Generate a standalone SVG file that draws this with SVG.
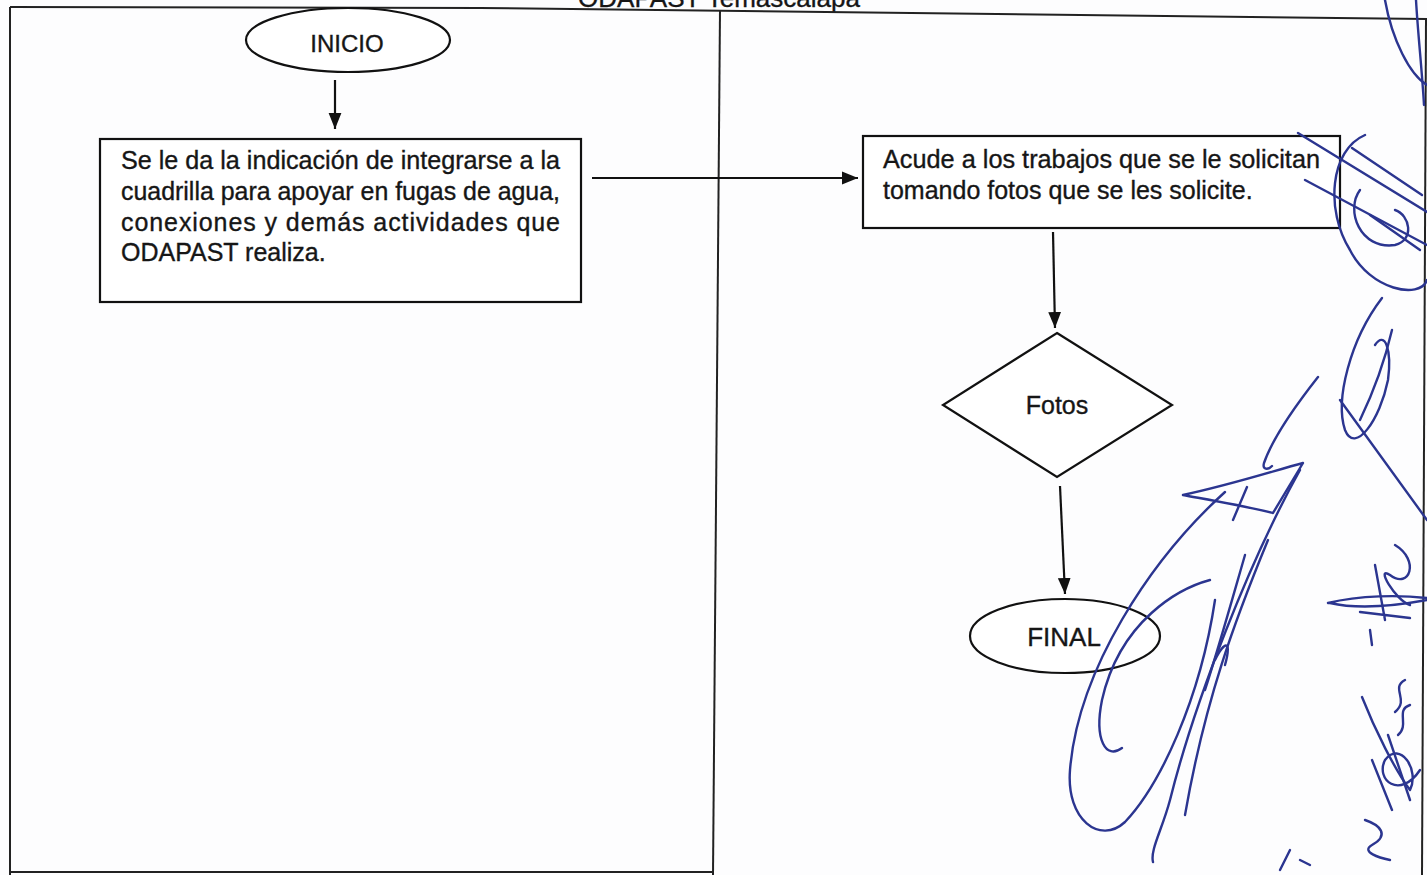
<svg xmlns="http://www.w3.org/2000/svg" width="1427" height="875" viewBox="0 0 1427 875">
<defs>
<style>
.frame{fill:none;stroke:#222;stroke-width:2}
.shape{fill:#fff;stroke:#111;stroke-width:2.2}
.conn{fill:none;stroke:#111;stroke-width:2.2}
.t{font-family:"Liberation Sans",Arial,sans-serif;font-size:25px;fill:#161616;stroke:#161616;stroke-width:0.35}
.c{text-anchor:middle}
.ink{fill:none;stroke:#2b3590;stroke-width:2.4;stroke-linecap:round;stroke-linejoin:round}
</style>
<marker id="ahb" viewBox="0 0 10 10" refX="10" refY="5" markerWidth="16" markerHeight="16" markerUnits="userSpaceOnUse" orient="auto">
<path d="M0,1 L10,5 L0,9 z" fill="#111"/>
</marker>
</defs>
<rect x="0" y="0" width="1427" height="875" fill="#fdfdfe"/>
<g id="frame">
<text class="t c" x="719" y="7" style="font-size:26px">ODAPAST Temascalapa</text>
<polyline class="frame" points="10,7 480,8 1427,19"/>
<line class="frame" x1="10" y1="7" x2="10" y2="875"/>
<line class="frame" x1="720" y1="10" x2="713" y2="875"/>
<line class="frame" x1="1426" y1="19" x2="1422" y2="875"/>
<line class="frame" x1="10" y1="872" x2="713" y2="872"/>
</g>
<g id="connectors">
<line class="conn" x1="335" y1="80" x2="335" y2="129" marker-end="url(#ahb)"/>
<line class="conn" x1="592" y1="178" x2="858" y2="178" marker-end="url(#ahb)"/>
<line class="conn" x1="1053" y1="232" x2="1055" y2="328" marker-end="url(#ahb)"/>
<line class="conn" x1="1060" y1="486" x2="1065" y2="594" marker-end="url(#ahb)"/>
</g>
<g id="inicio">
<ellipse class="shape" cx="348" cy="40" rx="102" ry="32"/>
<text class="t c" x="347" y="52" style="font-size:24px">INICIO</text>
</g>
<g id="paso1">
<rect class="shape" x="100" y="139" width="481" height="163"/>
<text class="t" x="121" y="169" textLength="439" lengthAdjust="spacingAndGlyphs">Se le da la indicación de integrarse a la</text>
<text class="t" x="121" y="200" textLength="439" lengthAdjust="spacingAndGlyphs">cuadrilla para apoyar en fugas de agua,</text>
<text class="t" x="121" y="231" textLength="439" lengthAdjust="spacing">conexiones y demás actividades que</text>
<text class="t" x="121" y="261">ODAPAST realiza.</text>
</g>
<g id="paso2">
<rect class="shape" x="863" y="136" width="477" height="92"/>
<text class="t" x="883" y="168" textLength="437" lengthAdjust="spacingAndGlyphs">Acude a los trabajos que se le solicitan</text>
<text class="t" x="883" y="199">tomando fotos que se les solicite.</text>
</g>
<g id="fotos">
<polygon class="shape" points="1057,333 1172,405 1057,477 943,405"/>
<text class="t c" x="1057" y="414">Fotos</text>
</g>
<g id="final">
<ellipse class="shape" cx="1065" cy="636" rx="95" ry="37"/>
<text class="t c" x="1064" y="646" style="font-size:26px">FINAL</text>
</g>
<g id="firmas">
<path class="ink" d="M1385,0 C1392,40 1410,75 1427,85"/>
<path class="ink" d="M1416,0 C1418,35 1422,70 1424,105"/>
<path class="ink" d="M1298,133 L1427,212"/>
<path class="ink" d="M1305,180 L1427,245"/>
<path class="ink" d="M1352,148 L1422,195"/>
<path class="ink" d="M1365,135 C1330,150 1325,210 1350,250 C1370,290 1420,300 1427,280"/>
<path class="ink" d="M1360,190 C1345,210 1360,250 1395,245 C1415,240 1410,215 1395,210"/>
<path class="ink" d="M1370,215 L1420,250"/>
<path class="ink" d="M1382,298 C1350,340 1335,400 1345,430 C1355,455 1380,420 1388,380 C1392,350 1385,330 1375,345"/>
<path class="ink" d="M1360,420 C1372,395 1385,360 1392,330"/>
<path class="ink" d="M1340,400 L1427,520"/>
<path class="ink" d="M1318,377 C1292,410 1272,440 1264,463 C1262,470 1268,470 1272,466"/>
<path class="ink" d="M1183,495 C1230,485 1270,472 1303,463 L1273,513 C1240,505 1210,500 1183,495"/>
<path class="ink" d="M1247,487 L1233,520"/>
<path class="ink" d="M1225,492 C1150,560 1078,670 1070,770 C1066,820 1100,845 1125,822 C1160,785 1200,700 1215,600"/>
<path class="ink" d="M1210,580 C1180,588 1120,620 1102,700 C1094,740 1106,760 1122,748"/>
<path class="ink" d="M1300,470 C1250,560 1195,700 1170,800 C1162,830 1150,850 1153,862"/>
<path class="ink" d="M1268,540 C1235,620 1205,700 1185,815"/>
<path class="ink" d="M1245,555 C1232,600 1218,650 1205,690 M1215,660 C1225,640 1232,640 1225,665"/>
<path class="ink" d="M1395,545 C1420,560 1410,590 1390,575 C1375,565 1395,600 1410,605"/>
<path class="ink" d="M1328,603 C1360,595 1400,595 1427,598 M1330,603 C1360,610 1400,605 1427,600"/>
<path class="ink" d="M1375,565 L1385,620 M1360,612 L1410,618"/>
<path class="ink" d="M1370,630 L1372,645"/>
<path class="ink" d="M1405,680 C1390,688 1410,700 1395,712 M1410,705 C1395,710 1410,725 1398,735"/>
<path class="ink" d="M1362,697 C1375,730 1395,770 1410,790 C1420,770 1400,740 1385,760 C1375,780 1400,800 1420,770"/>
<path class="ink" d="M1372,760 L1392,810 M1388,735 L1410,800"/>
<path class="ink" d="M1365,820 C1380,825 1390,835 1372,845 C1360,852 1380,858 1390,860"/>
<path class="ink" d="M1280,870 L1290,850 M1300,860 L1310,865"/>
</g>
</svg>
